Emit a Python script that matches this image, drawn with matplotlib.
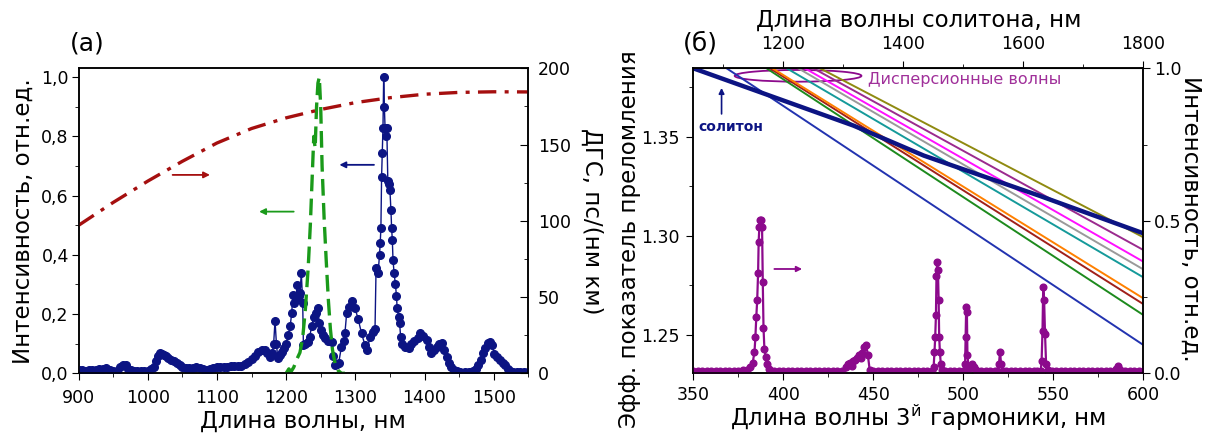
import matplotlib
matplotlib.use("Agg")
import matplotlib.pyplot as plt
from matplotlib.patches import Ellipse
from matplotlib.ticker import MultipleLocator, FixedLocator, FuncFormatter

plt.rcParams['font.family'] = ['DejaVu Sans']

# ---- panel (a): measured spectrum, (wavelength nm, intensity) ----
spec_pts = [
    (900, .010), (905, .010), (910, .009), (915, .010), (920, .010), (925, .011),
    (930, .013), (935, .016), (940, .017), (945, .012), (950, .007), (955, .008),
    (960, .022), (964, .027), (968, .028), (972, .015), (976, .010), (980, .008),
    (985, .008), (990, .008), (995, .008), (1000, .009), (1005, .013), (1009, .022),
    (1012, .040), (1015, .058), (1018, .068), (1021, .066), (1024, .062), (1027, .057),
    (1030, .051), (1034, .045), (1038, .040), (1042, .035), (1046, .028), (1050, .022),
    (1055, .018), (1060, .017), (1065, .019), (1070, .021), (1075, .018), (1080, .013),
    (1085, .011), (1090, .014), (1095, .018), (1100, .020), (1105, .020), (1110, .021),
    (1115, .022), (1120, .023), (1125, .023), (1130, .024), (1135, .026), (1140, .030),
    (1145, .039), (1150, .048), (1155, .060), (1160, .072), (1165, .080), (1169, .079),
    (1173, .068), (1177, .056), (1180, .070), (1182, .100), (1184, .178), (1186, .100),
    (1188, .050), (1191, .062), (1194, .073), (1197, .085), (1200, .100), (1203, .130),
    (1206, .160), (1208, .203), (1210, .264), (1212, .236), (1214, .250), (1216, .298),
    (1218, .260), (1220, .270), (1222, .338), (1224, .236), (1225, .095), (1228, .098),
    (1231, .105), (1234, .122), (1237, .160), (1240, .190), (1243, .205), (1246, .220),
    (1248, .170), (1250, .146), (1253, .130), (1256, .120), (1260, .110), (1263, .110),
    (1266, .105), (1268, .060), (1270, .028), (1273, .030), (1276, .035), (1280, .090),
    (1283, .110), (1285, .135), (1287.5, .203), (1291, .225), (1295, .245),
    (1299.6, .219), (1304, .185), (1309, .135), (1314, .095), (1317.5, .080),
    (1321, .124), (1326, .141), (1328.5, .150), (1330, .355), (1333, .340), (1335, .400),
    (1336, .440), (1337, .490), (1338, .664), (1339, .745), (1340, .830), (1341, 1.000),
    (1342, .900), (1343, .830), (1344, .800), (1345.5, .830), (1347, .650),
    (1348.5, .640), (1350, .620), (1351.5, .550), (1352.5, .490), (1353.5, .450),
    (1354.5, .383), (1356, .340), (1358, .300), (1359.5, .260), (1360.5, .220),
    (1362.5, .190), (1364, .170), (1365.5, .124), (1368, .100), (1372, .090),
    (1377, .086), (1381, .100), (1385, .110), (1390, .120), (1394, .135), (1398, .125),
    (1403, .113), (1407, .090), (1410, .068), (1414, .080), (1418, .090), (1421, .100),
    (1425, .104), (1428, .080), (1432, .056), (1436, .035), (1439, .020), (1443, .012),
    (1447, .008), (1452, .006), (1458, .006), (1464, .006), (1470, .007), (1474, .015),
    (1478, .028), (1481, .045), (1485, .068), (1488, .085), (1492, .101), (1495, .107),
    (1498, .095), (1501, .065), (1505, .055), (1509, .045), (1513, .035), (1516, .028),
    (1520, .015), (1524, .009), (1528, .006), (1533, .006), (1538, .006), (1544, .006),
    (1550, .006)]

# calculated soliton spectrum (green dashed, left axis)
calc_pts = [
    (1200, .000), (1204, .015), (1207, .005), (1211, .020), (1216, .050), (1220, .070),
    (1224, .120), (1228, .220), (1232, .360), (1235, .500), (1238, .680), (1240, .800),
    (1242, .760), (1244, .900), (1246, .980), (1248, 1.000), (1250, .900), (1252, .700),
    (1255, .520), (1258, .380), (1261, .250), (1264, .150), (1267, .080), (1271, .030),
    (1275, .010), (1280, .000), (1285, .000)]

# group velocity dispersion, ps/(nm km) (right axis)
gvd_wl = [900, 950, 1000, 1050, 1100, 1150, 1200, 1250, 1300, 1350, 1400, 1450, 1500, 1550]
gvd_val = [97, 112, 126, 139, 151, 160.5, 167.5, 173, 177.5, 180.7, 183, 184.2, 184.6, 184.5]

# ---- panel (б) ----
sol_x = [350, 439, 478, 543, 600]
sol_n = [1.3845, 1.3556, 1.3405, 1.3200, 1.3013]

# dispersive-wave curves: start wavelength at the top edge, index at 600 nm
dw_colors = ['#2233b0', '#1d8a1d', '#a0201a', '#ff8000', '#159a9a',
             '#9a9a9a', '#ff10ff', '#9b2a8e', '#8f8a10']
dw_x0 = [368.5, 390.7, 392.6, 394.0, 401.9, 408.3, 412.0, 416.7, 420.4]
dw_n1 = [1.2450, 1.2601, 1.2656, 1.2685, 1.2791, 1.2831, 1.2870, 1.2929, 1.2993]
n_top = 1.3845

# third-harmonic spectrum (right axis)
th_pts = [
    (350, .008), (352.5, .008), (355, .008), (357.5, .008), (360, .008), (362.5, .008),
    (365, .008), (367.5, .008), (370, .008), (372.5, .009), (375, .009), (377.5, .010),
    (380, .012), (381.5, .020), (383, .035), (384, .070), (384.5, .120), (385, .185),
    (385.5, .240), (386, .330), (386.3, .430), (386.7, .480), (387.2, .503), (387.8, .503),
    (388.2, .480), (388.6, .300), (389, .150), (389.5, .080), (390.2, .055), (391, .030),
    (392, .015), (393, .008), (395, .008), (397.5, .008), (400, .008), (402.5, .008),
    (405, .008), (407.5, .008), (410, .008), (412.5, .008), (415, .008), (417.5, .008),
    (420, .008), (422.5, .008), (425, .008), (427.5, .008), (430, .008), (432.5, .008),
    (435, .020), (436, .030), (437, .033), (438, .025), (439, .040), (440, .044),
    (441, .050), (442, .060), (443, .050), (444, .065), (445, .087), (446, .093),
    (447, .060), (448, .010), (450, .008), (452.5, .008), (455, .008), (457.5, .008),
    (460, .008), (462.5, .008), (465, .008), (467.5, .008), (470, .008), (472.5, .008),
    (475, .008), (477.5, .008), (480, .008), (482.5, .008), (483.5, .020), (484, .070),
    (484.4, .120), (484.8, .190), (485.1, .320), (485.5, .366), (485.9, .340),
    (486.3, .240), (486.6, .120), (487, .070), (487.5, .030), (488.1, .010), (490, .008),
    (492.5, .008), (495, .008), (497.5, .008), (500, .008), (501, .030), (501.3, .120),
    (501.6, .216), (502, .200), (502.3, .060), (503, .015), (504, .025), (505, .030),
    (506, .020), (507, .010), (510, .008), (512.5, .008), (515, .008), (517.5, .008),
    (519, .008), (519.8, .030), (520.4, .071), (521, .030), (522, .008), (524, .008),
    (526.5, .008), (529, .008), (531.5, .008), (534, .008), (536.5, .008), (539, .008),
    (541, .008), (543, .008), (543.5, .040), (544, .140), (544.4, .282), (544.9, .240),
    (545.4, .130), (546, .030), (547, .010), (549, .008), (551.5, .008), (554, .008),
    (556.5, .008), (559, .008), (561.5, .008), (564, .008), (566.5, .008), (569, .008),
    (571.5, .008), (574, .008), (576.5, .008), (579, .008), (581.5, .008), (584, .008),
    (585, .015), (585.8, .025), (586.6, .015), (588, .008), (590, .008), (592.5, .008),
    (595, .008), (597.5, .008), (600, .008)]

spec_wl, spec_int = zip(*spec_pts)
calc_wl, calc_int = zip(*calc_pts)
th_wl, th_int = zip(*th_pts)

navy = '#0c1483'
purple = '#8c0a8c'

fig = plt.figure(figsize=(12.12, 4.34), dpi=100)
W, H = 1212.0, 434.0

def box(l, r, t, b):
    return [l / W, 1 - b / H, (r - l) / W, (b - t) / H]

tick_fs = 12.5
lab_fs = 16.5

# ===== panel (a) =====
ax1 = fig.add_axes(box(78.5, 528.3, 68.3, 373.3))
ax1r = ax1.twinx()
ax1.plot(spec_wl, spec_int, '-o', color=navy, lw=1, ms=5.5, mec=navy, zorder=3)
ax1.plot(calc_wl, calc_int, '--', color='#1a9a1a', lw=2.4, dashes=(5, 2.2), zorder=4)
ax1r.plot(gvd_wl, gvd_val, color='#a50f0f', lw=2.4, dashes=(5.5, 2.5, 1.2, 2.5))

ax1.set_xlim(900, 1550)
ax1.set_ylim(0, 1.03)
ax1r.set_ylim(0, 200)
ax1.xaxis.set_major_locator(MultipleLocator(100))
ax1.xaxis.set_minor_locator(MultipleLocator(50))
ax1.yaxis.set_major_locator(MultipleLocator(0.2))
ax1.yaxis.set_minor_locator(MultipleLocator(0.1))
ax1.yaxis.set_major_formatter(FuncFormatter(lambda v, p: ('%.1f' % v).replace('.', ',')))
ax1r.yaxis.set_major_locator(MultipleLocator(50))
ax1r.yaxis.set_minor_locator(MultipleLocator(25))
ax1.tick_params(which='both', direction='out', labelsize=tick_fs, top=False)
ax1.tick_params(axis='x', pad=6)
ax1.tick_params(axis='y', pad=2)
ax1.tick_params(which='major', length=5)
ax1.tick_params(which='minor', length=3)
ax1r.tick_params(which='both', direction='in', labelsize=tick_fs, pad=7)
ax1r.tick_params(which='major', length=6)
ax1r.tick_params(which='minor', length=3)

ax1.set_xlabel('Длина волны, нм', fontsize=lab_fs, va='baseline')
ax1.xaxis.set_label_coords(0.5, -0.178)
ax1.set_ylabel('Интенсивность, отн.ед.', fontsize=lab_fs, va='center')
ax1.yaxis.set_label_coords(-0.123, 0.5)
ax1r.set_ylabel('ДГС, пс/(нм км)', fontsize=lab_fs, rotation=-90, va='center')
ax1r.yaxis.set_label_coords(1.14, 0.5)

ax1.annotate('', xy=(1094, 0.67), xytext=(1032, 0.67),
             arrowprops=dict(arrowstyle='-|>', color='#a50f0f', lw=1.3, mutation_scale=9))
ax1.annotate('', xy=(1157, 0.546), xytext=(1215, 0.546),
             arrowprops=dict(arrowstyle='-|>', color='#1a9a1a', lw=1.3, mutation_scale=9))
ax1.annotate('', xy=(1273, 0.704), xytext=(1331, 0.704),
             arrowprops=dict(arrowstyle='-|>', color=navy, lw=1.3, mutation_scale=9))
fig.text(87 / W, 1 - 43 / H, '(a)', fontsize=18, ha='center', va='center')

# ===== panel (б) =====
ax2 = fig.add_axes(box(693.3, 1143.3, 68.3, 373.3))
ax2r = ax2.twinx()
for c, x0, n1 in zip(dw_colors, dw_x0, dw_n1):
    ax2.plot([x0, 600], [n_top, n1], color=c, lw=1.4)
ax2.plot(sol_x, sol_n, color=navy, lw=3.2)
ax2r.plot(th_wl, th_int, '-o', color=purple, lw=1.6, ms=4.8, mec=purple)

ax2.set_xlim(350, 600)
ax2.set_ylim(1.2307, n_top)
ax2r.set_ylim(0, 1)
ax2.xaxis.set_major_locator(MultipleLocator(50))
ax2.xaxis.set_minor_locator(MultipleLocator(25))
ax2.yaxis.set_major_locator(MultipleLocator(0.05))
ax2.yaxis.set_minor_locator(MultipleLocator(0.025))
ax2.yaxis.set_major_formatter(FuncFormatter(lambda v, p: '%.2f' % v))
ax2r.yaxis.set_major_locator(MultipleLocator(0.5))
ax2r.yaxis.set_minor_locator(MultipleLocator(0.25))
ax2r.yaxis.set_major_formatter(FuncFormatter(lambda v, p: '%.1f' % v))
for a in (ax2, ax2r):
    a.tick_params(which='both', direction='out', labelsize=tick_fs)
    a.tick_params(which='major', length=5)
    a.tick_params(which='minor', length=3)
ax2.tick_params(axis='x', pad=4)
ax2.tick_params(axis='y', pad=5)
ax2r.tick_params(axis='y', pad=2.5)

top = ax2.secondary_xaxis('top', functions=(lambda x: 3 * x, lambda x: x / 3.0))
top.xaxis.set_major_locator(FixedLocator([1200, 1400, 1600, 1800]))
top.xaxis.set_minor_locator(FixedLocator([1100, 1300, 1500, 1700]))
top.tick_params(which='both', direction='out', labelsize=tick_fs, pad=6)
top.tick_params(which='major', length=5)
top.tick_params(which='minor', length=3)
top.set_xlabel('Длина волны солитона, нм', fontsize=lab_fs, labelpad=6)

ax2.set_xlabel('Длина волны 3$^{\\mathrm{й}}$ гармоники, нм', fontsize=lab_fs, va='baseline')
ax2.xaxis.set_label_coords(0.5, -0.174)
ax2.set_ylabel('Эфф. показатель преломления', fontsize=lab_fs, va='center')
ax2.yaxis.set_label_coords(-0.141, 0.44)
ax2r.set_ylabel('Интенсивность, отн.ед.', fontsize=lab_fs, rotation=-90, va='center')
ax2r.yaxis.set_label_coords(1.106, 0.505)

ax2.add_patch(Ellipse((408.2, 1.3807), 70.4, 0.0059, fill=False, ec=purple, lw=1.3))
ax2.text(447, 1.3791, 'Дисперсионные волны', color='#a0309a', fontsize=11.5, va='center')
ax2.annotate('', xy=(365.7, 1.3760), xytext=(365.7, 1.3601),
             arrowprops=dict(arrowstyle='-|>', color=navy, lw=1.2, mutation_scale=8))
ax2.text(370.9, 1.3547, 'солитон', color=navy, fontsize=10, fontweight='bold',
         ha='center', va='center')
ax2r.annotate('', xy=(412, 0.342), xytext=(393.5, 0.342),
              arrowprops=dict(arrowstyle='-|>', color=purple, lw=1.3, mutation_scale=8))
fig.text(700 / W, 1 - 43 / H, '(б)', fontsize=18, ha='center', va='center')

for a in (ax1, ax1r, ax2, ax2r):
    for s in a.spines.values():
        s.set_linewidth(1.1)

fig.savefig('out.png', dpi=100)
